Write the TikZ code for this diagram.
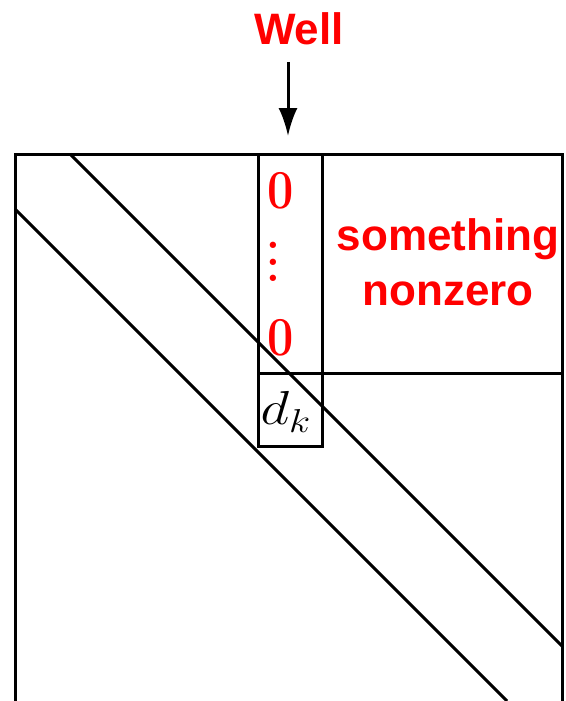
\documentclass[tikz,border=0pt]{standalone}
\usepackage{fontspec}
\setsansfont{Liberation Sans}
\usetikzlibrary{arrows.meta,positioning}
\definecolor{WellRed}{RGB}{255,0,0}
\tikzset{
  mat/line/.style={line width=3pt, draw=black},
  mat/arrow/.style={-{Latex[length=28pt,width=19pt]}, line width=3pt, draw=black},
  mat/label/.style={font=\fontsize{44}{55}\selectfont\sffamily\bfseries, text=WellRed, align=center, inner sep=0pt},
  mat/zero/.style={font=\fontsize{55}{60}\selectfont\bfseries, text=WellRed, inner sep=0pt, xscale=0.85},
  mat/dots/.style={font=\fontsize{44}{16.5}\selectfont\bfseries, text=WellRed, align=center, inner sep=0pt},
  mat/entry/.style={font=\fontsize{20}{24}\selectfont, inner sep=0pt, xscale=2.7, yscale=2.3, transform shape}
}
\begin{document}
\begin{tikzpicture}[x=1pt,y=-1pt]
  \useasboundingbox (0,0) rectangle (565,701);
  % matrix frame
  \coordinate (tl) at (15,154);
  \coordinate (tr) at (562,154);
  \coordinate (bl) at (15,701);
  \coordinate (br) at (562,701);
  \draw[mat/line] (bl) -- (tl) -- (tr) -- (br);
  % diagonal band
  \draw[mat/line] (70,154) -- (562,646);
  \draw[mat/line] (15,209) -- (507,701);
  % the well column
  \draw[mat/line] (258,154) -- (258,446) -- (322,446) -- (322,154);
  \draw[mat/line] (258,373) -- (562,373);
  % labels
  \node[mat/label] (well) at (299,29) {Well};
  \coordinate (arrowtop) at (288,62);
  \coordinate (arrowtip) at (288,136);
  \draw[mat/arrow] (arrowtop) -- (arrowtip);
  \node[mat/zero] (zerotop) at (281,191) {0};
  \node[mat/dots] (dots) at (273,262) {.\\.\\.};
  \node[mat/zero] (zerobot) at (281,338) {0};
  \node[mat/entry] (dk) at (286,412) {$d_k$};
  \node[mat/label] (nonzero) at (448,262) {something\\nonzero};
\end{tikzpicture}
\end{document}
